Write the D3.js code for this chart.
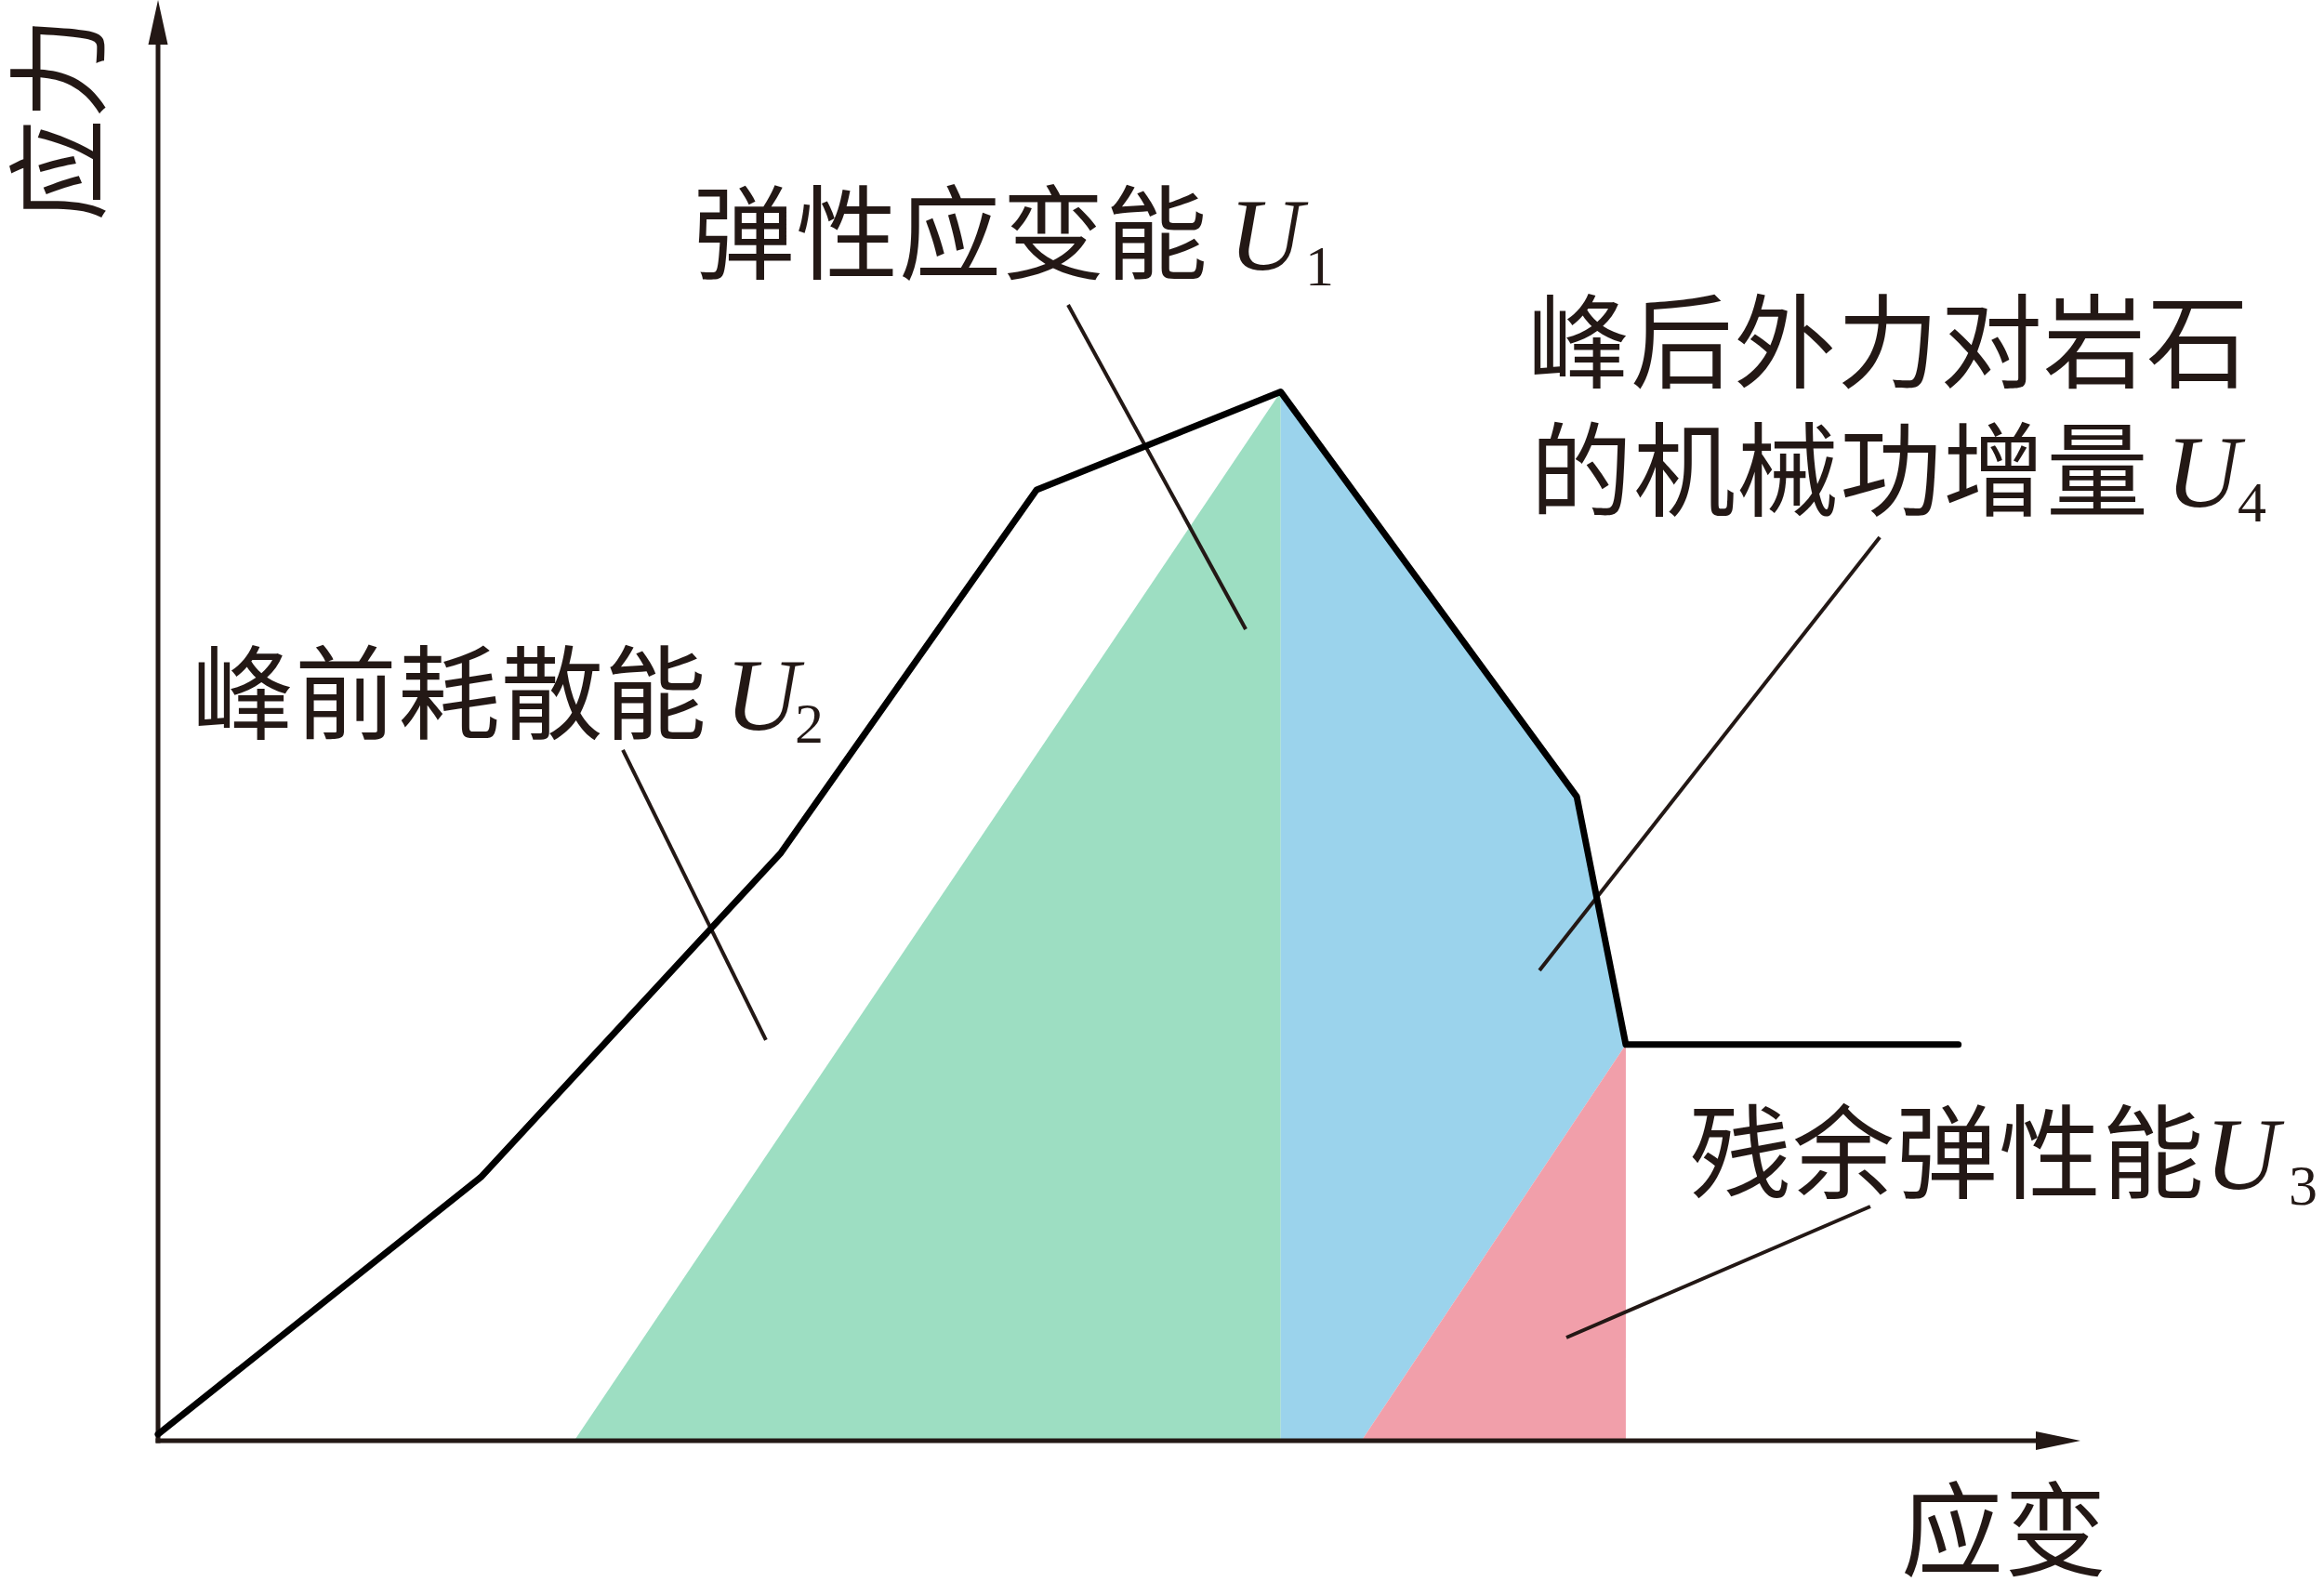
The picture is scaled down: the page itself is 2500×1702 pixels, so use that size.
<!DOCTYPE html>
<html>
<head>
<meta charset="utf-8">
<script src="https://cdn.jsdelivr.net/npm/d3@7"></script>
<style>
  html, body { margin: 0; padding: 0; background: #ffffff; }
  svg { display: block; }
</style>
</head>
<body>
<svg id="chart" width="2500" height="1702"></svg>
<script>
// ---------------- data (schematic stress–strain curve, arbitrary units) ----------------
const strain = [0, 16.8, 32.4, 45.7, 58.4, 73.8, 76.35, 93.65];
const stress = [0.45, 18.3, 40.8, 66.0, 72.8, 44.7, 27.5, 27.5];
const peakIndex = 4;          // peak of the curve
const residualIndex = 6;      // start of the residual plateau
const unloadStartPeak = 21.65;     // strain where elastic unloading line from the peak meets the axis
const unloadStartResidual = 62.6;  // strain where elastic unloading from the residual point meets the axis

const axisTitles = { x: "应变", y: "应力" };
const regionNames = ["弹性应变能", "峰前耗散能", "残余弹性能", "峰后外力对岩石的机械功增量"];
const regionSymbols = ["U", "U", "U", "U"];
const regionSubs = ["1", "2", "3", "4"];

// leader lines (strain, stress) from label to region
const leaderFrom = [[47.34, 78.84], [24.18, 47.94], [89.07, 16.26], [89.56, 62.71]];
const leaderTo   = [[56.58, 56.32], [31.62, 27.81], [73.26, 7.16],  [71.86, 32.65]];

// ---------------- layout ----------------
const svg = d3.select("#chart");
const x = d3.scaleLinear().domain([0, 100]).range([170, 2238]);
const y = d3.scaleLinear().domain([0, 100]).range([1550, 0]);

const ink = "#231815";
const colors = { green: "#9ddec2", blue: "#9bd3ec", pink: "#f19faa" };

const pts = strain.map((s, i) => [s, stress[i]]);
const peak = pts[peakIndex], resid = pts[residualIndex];

const poly = d3.line().x(d => x(d[0])).y(d => y(d[1]));

// regions
const greenPoly = [[unloadStartPeak, 0], peak, [peak[0], 0]];
const bluePoly = [peak, pts[5], resid, [unloadStartResidual, 0], [peak[0], 0]];
const pinkPoly = [resid, [resid[0], 0], [unloadStartResidual, 0]];

svg.append("path").attr("d", poly(greenPoly) + "Z").attr("fill", colors.green);
svg.append("path").attr("d", poly(bluePoly) + "Z").attr("fill", colors.blue);
svg.append("path").attr("d", poly(pinkPoly) + "Z").attr("fill", colors.pink);

// leaders
leaderFrom.forEach((f, i) => {
  const t = leaderTo[i];
  svg.append("line")
    .attr("x1", x(f[0])).attr("y1", y(f[1]))
    .attr("x2", x(t[0])).attr("y2", y(t[1]))
    .attr("stroke", ink).attr("stroke-width", 4);
});

// axes
const x0 = x(0), y0 = y(0);
svg.append("line").attr("x1", x0).attr("y1", y0 + 2.5).attr("x2", x0).attr("y2", y(100) + 40)
  .attr("stroke", ink).attr("stroke-width", 5);
svg.append("path")
  .attr("d", `M${x0},${y(100)} L${x0 + 10.5},${y(100) + 48} L${x0 - 10.5},${y(100) + 48} Z`)
  .attr("fill", ink);
svg.append("line").attr("x1", x0 - 2.5).attr("y1", y0).attr("x2", x(100) - 40).attr("y2", y0)
  .attr("stroke", ink).attr("stroke-width", 5);
svg.append("path")
  .attr("d", `M${x(100)},${y0} L${x(100) - 48},${y0 - 10} L${x(100) - 48},${y0 + 10} Z`)
  .attr("fill", ink);

// curve
svg.append("path").attr("d", poly(pts))
  .attr("fill", "none").attr("stroke", "#000").attr("stroke-width", 7)
  .attr("stroke-linejoin", "round").attr("stroke-linecap", "round");

// ---------------- text ----------------
const cjk = "'Noto Sans CJK SC', 'Noto Sans CJK JP', sans-serif";
const serif = "'Liberation Serif', 'DejaVu Serif', serif";
const fs = 110;

function cjkText(str, tx, ty) {
  svg.append("text").attr("x", tx).attr("y", ty)
    .attr("font-family", cjk).attr("font-size", fs).attr("letter-spacing", 1).attr("fill", ink).text(str);
}
function sym(s, sub, ux, uy, sx, sy) {
  svg.append("text").attr("x", ux).attr("y", uy)
    .attr("font-family", serif).attr("font-style", "italic").attr("font-size", 110)
    .attr("fill", ink).text(s);
  svg.append("text").attr("x", sx).attr("y", sy)
    .attr("font-family", serif).attr("font-size", 62).attr("fill", ink).text(sub);
}

// U1
cjkText(regionNames[0], 745, 292);
sym(regionSymbols[0], regionSubs[0], 1322, 290, 1404, 307);
// U2
cjkText(regionNames[1], 206, 787);
sym(regionSymbols[1], regionSubs[1], 780, 785, 855, 799);
// U3
cjkText(regionNames[2], 1817, 1281);
sym(regionSymbols[2], regionSubs[2], 2372, 1279, 2462, 1296);
// U4 (two lines)
cjkText(regionNames[3].slice(0, 7), 1643, 409);
cjkText(regionNames[3].slice(7), 1646, 547);
sym(regionSymbols[3], regionSubs[3], 2330, 545, 2407, 561);

// axis titles
cjkText(axisTitles.x, 2045, 1687);
svg.append("text")
  .attr("transform", "translate(104,238) rotate(-90)")
  .attr("font-family", cjk).attr("font-size", fs).attr("fill", ink)
  .text(axisTitles.y);
</script>
</body>
</html>
